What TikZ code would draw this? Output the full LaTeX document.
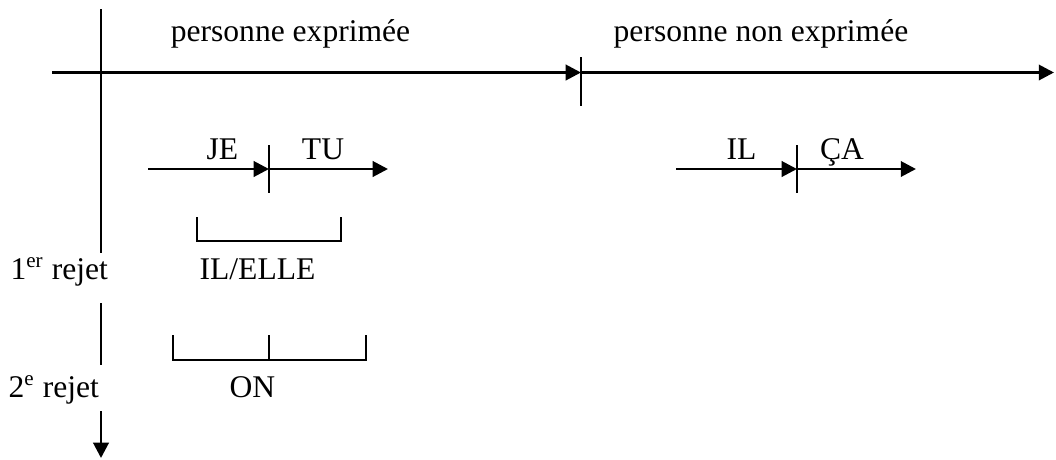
\documentclass[tikz,border=0pt]{standalone}
\usepackage{fontspec}
\setmainfont{Liberation Serif}
\usetikzlibrary{arrows.meta}
\begin{document}
\begin{tikzpicture}[x=3.8pt,y=-3.8pt,
  arr/.style={line width=1.1pt,-{Triangle[length=5.8pt,width=5.8pt]}},
  plain/.style={line width=1.1pt},
  tick/.style={line width=0.7pt},
  lbl/.style={inner sep=0pt,anchor=base,font=\fontsize{12}{14}\selectfont}]
\useasboundingbox (0,0) rectangle (105.6,45.9);
\coordinate (hA) at (5.2,7.25);
\coordinate (hB) at (58.1,7.25);
\coordinate (hC) at (105.4,7.25);
\coordinate (vA) at (10.1,0.9);
\coordinate (vB) at (10.1,25.3);
\coordinate (vC) at (10.1,30.3);
\coordinate (vD) at (10.1,36.5);
\coordinate (vE) at (10.1,41.1);
\coordinate (vF) at (10.1,45.8);
\coordinate (jeA) at (14.8,16.9);
\coordinate (jeB) at (26.9,16.9);
\coordinate (jeC) at (38.8,16.9);
\coordinate (ilA) at (67.6,16.9);
\coordinate (ilB) at (79.7,16.9);
\coordinate (ilC) at (91.6,16.9);
% axes
\draw [arr](hA) -- (hB);
\draw [arr](hB) -- (hC);
\draw [tick](58.1,5.7) -- (58.1,10.6);
\draw [plain](vA) -- (vB);
\draw [plain](vC) -- (vD);
\draw [arr](vE) -- (vF);
% je / tu, il / ca
\draw [arr](jeA) -- (jeB);
\draw [arr](jeB) -- (jeC);
\draw [tick](26.9,14.5) -- (26.9,19.3);
\draw [arr](ilA) -- (ilB);
\draw [arr](ilB) -- (ilC);
\draw [tick](79.7,14.5) -- (79.7,19.3);
% rejets
\draw [tick](19.7,21.7) -- (19.7,24.1) -- (34.1,24.1) -- (34.1,21.7);
\draw [tick](17.3,33.5) -- (17.3,36.0) -- (36.6,36.0) -- (36.6,33.5);
\draw [tick](26.9,33.5) -- (26.9,36.0);
\node[lbl] (pe) at (29.05,4.1) {personne exprimée};
\node[lbl] (pne) at (76.1,4.1) {personne non exprimée};
\node[lbl] (je) at (22.25,15.9) {JE};
\node[lbl] (tu) at (32.3,15.9) {TU};
\node[lbl] (il) at (74.15,15.9) {IL};
\node[lbl] (ca) at (84.2,15.9) {ÇA};
\node[lbl] (ilelle) at (25.75,27.9) {IL/ELLE};
\node[lbl] (on) at (25.25,39.7) {ON};
\node[lbl,anchor=base west] (rejA) at (1.0,27.9) {1\textsuperscript{er} rejet};
\node[lbl,anchor=base west] (rejB) at (0.8,39.7) {2\textsuperscript{e} rejet};
\end{tikzpicture}
\end{document}
